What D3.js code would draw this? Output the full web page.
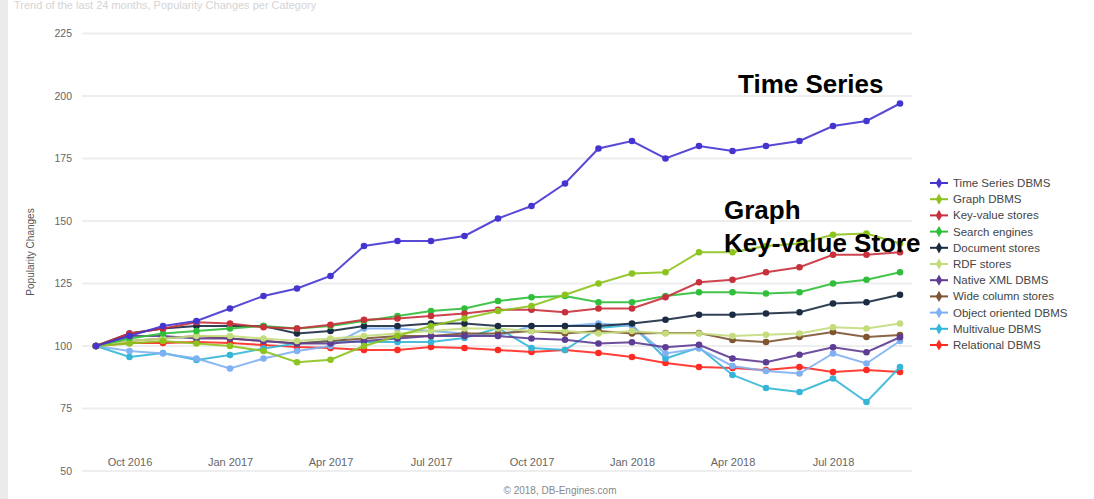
<!DOCTYPE html>
<html><head><meta charset="utf-8">
<script src="https://cdn.jsdelivr.net/npm/d3@7"></script>
<style>
html,body{margin:0;padding:0;background:#fff;}
svg{display:block;font-family:"Liberation Sans",Arial,sans-serif;}
</style></head>
<body><svg id="c" width="1094" height="499"></svg>
<script>
const months = ["Sep 2016","Oct 2016","Nov 2016","Dec 2016","Jan 2017","Feb 2017","Mar 2017","Apr 2017","May 2017","Jun 2017","Jul 2017","Aug 2017","Sep 2017","Oct 2017","Nov 2017","Dec 2017","Jan 2018","Feb 2018","Mar 2018","Apr 2018","May 2018","Jun 2018","Jul 2018","Aug 2018","Sep 2018"];
const xTickLabels = ["Oct 2016","Jan 2017","Apr 2017","Jul 2017","Oct 2017","Jan 2018","Apr 2018","Jul 2018"];
const yTicks = [50,75,100,125,150,175,200,225];
const seriesNames = ["Time Series DBMS","Graph DBMS","Key-value stores","Search engines","Document stores","RDF stores","Native XML DBMS","Wide column stores","Object oriented DBMS","Multivalue DBMS","Relational DBMS"];
const timeSeries  = [100,104,108,110,115,120,123,128,140,142,142,144,151,156,165,179,182,175,180,178,180,182,188,190,197];
const graphDbms   = [100,101,102,101,100,98,93.5,94.5,100,104,108,111,114,116,120.5,125,129,129.5,137.5,137.5,140,141,144.5,145,141];
const keyValue    = [100,105,107,109.5,109,107.5,107,108.5,110.5,111,112,113,114.5,114.5,113.5,115,115,119.5,125.5,126.5,129.5,131.5,136.5,136.5,137.5];
const searchEng   = [100,103,105,106,107,108,107,108,110,112,114,115,118,119.5,120,117.5,117.5,120,121.5,121.5,121,121.5,125,126.5,129.5];
const documentSt  = [100,105,107,108,108,108,105,106,108,108,109,109,108,108,108,108,109,110.5,112.5,112.5,113,113.5,117,117.5,120.5];
const rdfStores   = [100,102,103,104,104,103,102,103,104,105,106,107,107,106,106,105,106,105,105,104,104.5,105,107.5,107,109];
const nativeXml   = [100,104,104,103,103,102,101,101,102,103,104,104,104,103,102.5,101,101.5,99.5,100.5,95,93.5,96.5,99.5,97.5,103.5];
const wideColumn  = [100,102,103,104,103,102,101,102,103,104,104,105,105,106,105,106,105,105.2,105.2,102.4,101.6,103.6,105.6,103.6,104.4];
const objectOr    = [100,98,97,95,91,95,98,100,107,107,106,105,104,108,108,109,108,97,99,92,90,89,97,93,102];
const multivalue  = [100,95.6,97.2,94.4,96.4,99,101,102,101.6,101.6,101.6,103.2,107.2,99.2,98.4,107.2,108.4,95,99.4,88.4,83.2,81.6,87,77.6,91.6];
const relational  = [100,101.2,101.2,101.6,101.2,100.4,99.6,99.2,98.4,98.4,99.6,99.2,98.4,97.6,98.4,97.2,95.6,93.2,91.6,91.2,90.4,91.6,89.6,90.4,89.6];
const seriesValues = [timeSeries,graphDbms,keyValue,searchEng,documentSt,rdfStores,nativeXml,wideColumn,objectOr,multivalue,relational];
const colors = ["#4535d0","#8cc31e","#c8303c","#2fbf3a","#1b2b42","#c3dc7c","#5e3c94","#7d5532","#7fb0f2","#35b6d6","#ff2a22"];

const svg = d3.select("#c");
svg.append("rect").attr("x",0).attr("y",0).attr("width",8).attr("height",499).attr("fill","#ebebeb");
svg.append("text").attr("x",14).attr("y",9).attr("font-size",11).attr("fill","#d4d4d4").text("Trend of the last 24 months, Popularity Changes per Category");

const x = d3.scalePoint().domain(months).range([96,900]);
const y = d3.scaleLinear().domain([50,225]).range([471,33.5]);

svg.append("g").selectAll("line").data(yTicks).join("line")
  .attr("x1",82).attr("x2",912).attr("y1",d=>y(d)).attr("y2",d=>y(d))
  .attr("stroke","#eeeeee").attr("stroke-width",2);

const yAxis = d3.axisLeft(y).tickValues(yTicks).tickSize(0).tickPadding(0);
const gy = svg.append("g").attr("transform","translate(72,0)").call(yAxis);
gy.select(".domain").remove();
gy.selectAll("text").attr("font-size",10.5).attr("fill","#666").attr("font-family","Liberation Sans, Arial, sans-serif");

svg.append("text").attr("transform","translate(34,252) rotate(-90)").attr("text-anchor","middle")
  .attr("font-size",10).attr("fill","#555").text("Popularity Changes");

const xAxis = d3.axisBottom(x).tickValues(xTickLabels).tickSize(0).tickPadding(0);
const gx = svg.append("g").attr("transform","translate(0,458)").call(xAxis);
gx.select(".domain").remove();
gx.selectAll("text").attr("font-size",11).attr("fill","#666").attr("font-family","Liberation Sans, Arial, sans-serif");

svg.append("text").attr("x",560).attr("y",494).attr("text-anchor","middle").attr("font-size",10).attr("fill","#888").text("© 2018, DB-Engines.com");

const line = d3.line().x((d,i)=>x(months[i])).y(d=>y(d));
const order = d3.range(seriesNames.length).reverse();
order.forEach(k=>{
  const g = svg.append("g");
  g.append("path").datum(seriesValues[k]).attr("d",line).attr("fill","none")
    .attr("stroke",colors[k]).attr("stroke-width",2).attr("stroke-opacity",0.9);
  g.selectAll("circle").data(seriesValues[k]).join("circle")
    .attr("cx",(d,i)=>x(months[i])).attr("cy",d=>y(d)).attr("r",3.3).attr("fill",colors[k]);
});

const lg = svg.append("g");
seriesNames.forEach((n,i)=>{
  const yy = 183 + i*16.2;
  lg.append("line").attr("x1",930).attr("x2",948).attr("y1",yy).attr("y2",yy).attr("stroke",colors[i]).attr("stroke-width",2);
  lg.append("path").attr("d",d3.symbol(d3.symbolDiamond,36)()).attr("transform",`translate(939,${yy})`).attr("fill",colors[i]);
  lg.append("text").attr("x",953).attr("y",yy+4).attr("font-size",11.5).attr("fill","#444").text(n);
});

const ann = [["Time Series",738,93],["Graph",724,219],["Key-value Store",724,252]];
svg.append("g").selectAll("text").data(ann).join("text")
  .attr("x",d=>d[1]).attr("y",d=>d[2]).attr("font-size",26).attr("font-weight","bold").attr("fill","#000")
  .text(d=>d[0]);
</script></body></html>
